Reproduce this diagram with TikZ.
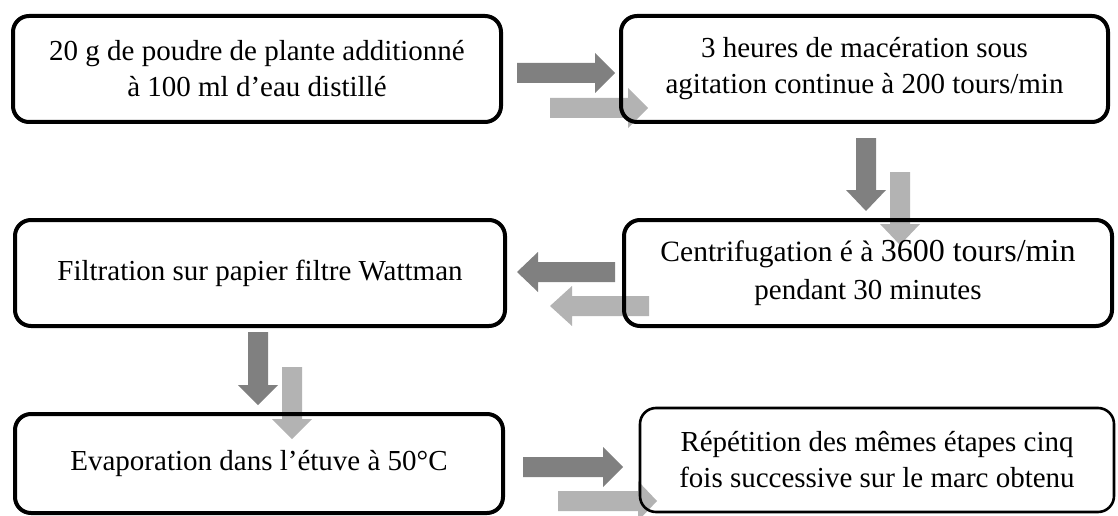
\documentclass[tikz,border=0pt]{standalone}
\usepackage{fontspec}
\setmainfont{Liberation Serif}
\definecolor{arrdark}{RGB}{128,128,128}
\definecolor{arrlight}{RGB}{179,179,179}
% horizontal block arrow: #1 tail x, #2 head base x, #3 tip x, #4 centre y, #5 colour
\newcommand\BlockH[5]{\fill[#5] (#1,#4-10) -- (#2,#4-10) -- (#2,#4-20) -- (#3,#4) -- (#2,#4+20) -- (#2,#4+10) -- (#1,#4+10) -- cycle;}
% vertical block arrow: #1 tail y, #2 head base y, #3 tip y, #4 centre x, #5 colour
\newcommand\BlockV[5]{\fill[#5] (#4-10,#1) -- (#4-10,#2) -- (#4-20,#2) -- (#4,#3) -- (#4+20,#2) -- (#4+10,#2) -- (#4+10,#1) -- cycle;}
\begin{document}
\begin{tikzpicture}[x=1pt,y=-1pt,
  box/.style={draw=black,line width=4pt,rounded corners=16pt,inner sep=0pt,align=center,
    font=\fontsize{29}{36}\selectfont},
  thinbox/.style={box,line width=2.6pt}]
\useasboundingbox (0,0) rectangle (1118,516);
% arrows
\BlockH{517}{595}{615}{73}{arrdark}
\BlockH{550}{628}{648}{108}{arrlight}
\BlockV{138}{190}{211}{866}{arrdark}
\BlockV{172}{224}{245}{900}{arrlight}
\BlockH{615}{538}{517}{272}{arrdark}
\BlockH{649}{572}{550}{306}{arrlight}
\BlockV{332}{385}{405}{258}{arrdark}
\BlockV{367}{419}{439}{292}{arrlight}
\BlockH{523}{603}{623}{467}{arrdark}
\BlockH{558}{638}{657}{501}{arrlight}
% boxes
\node[box,minimum width=488pt,minimum height=106pt] (b1) at (257,69)
  {20 g de poudre de plante additionné\\à 100 ml d’eau distillé};
\node[box,minimum width=487pt,minimum height=106pt] (b2) at (864.5,69)
  {3 heures de macération sous\\agitation continue à 200 tours/min};
\node[box,minimum width=490pt,minimum height=106pt] (b3) at (260,273)
  {Filtration sur papier filtre Wattman};
\node[box,minimum width=488pt,minimum height=106pt] (b4) at (868,273)
  {{\fontsize{29.5}{36}\selectfont Centrifugation é à }{\fontsize{32}{36}\selectfont 3600 tours/min}\\[2pt]pendant 30 minutes};
\node[box,minimum width=488pt,minimum height=99pt] (b5) at (259,463.5)
  {Evaporation dans l’étuve à 50°C};
\node[thinbox,minimum width=474pt,minimum height=104pt] (b6) at (877,460)
  {Répétition des mêmes étapes cinq\\fois successive sur le marc obtenu};
\end{tikzpicture}
\end{document}
